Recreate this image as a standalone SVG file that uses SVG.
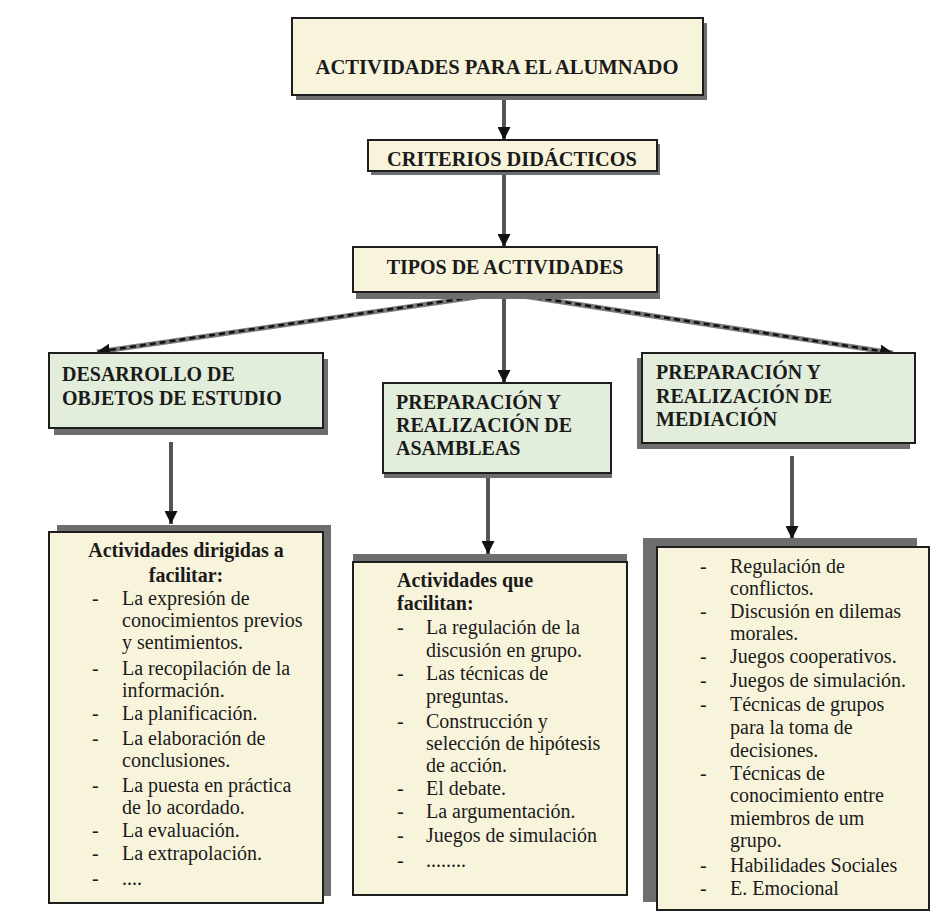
<svg xmlns="http://www.w3.org/2000/svg" width="948" height="915" viewBox="0 0 948 915">
<style>
.t{font-family:"Liberation Serif","Times New Roman",serif;font-size:20px;fill:#1a1a1a}
.b{font-weight:bold}
.c{text-anchor:middle}
.cream{fill:#f8f4dc;stroke:#1e1e1e;stroke-width:2}
.green{fill:#e2eedb;stroke:#1e1e1e;stroke-width:2}
.sh{fill:#6e6e6e}
.ln{stroke:#555555;stroke-width:4;fill:none}
.dk{stroke:#7a7a7a;stroke-width:5;fill:none}
.ds{stroke:#111111;stroke-width:2.5;stroke-dasharray:6 4;fill:none}
</style>
<defs>
<marker id="ah" markerUnits="userSpaceOnUse" markerWidth="13" markerHeight="13" refX="13" refY="6.5" orient="auto">
<path d="M0,0 L13,6.5 L0,13 z" fill="#111"/>
</marker>
</defs>
<rect width="948" height="915" fill="#ffffff"/>

<g id="connectors">
<line class="ln" x1="504" y1="97" x2="504" y2="140" marker-end="url(#ah)"/>
<line class="ln" x1="504" y1="172" x2="504" y2="247" marker-end="url(#ah)"/>
<line class="ln" x1="504" y1="293" x2="504" y2="383" marker-end="url(#ah)"/>
<line class="dk" x1="504" y1="293" x2="97" y2="352" marker-end="url(#ah)"/>
<line class="ds" x1="502" y1="293" x2="110" y2="350"/>
<line class="dk" x1="504" y1="293" x2="893" y2="353" marker-end="url(#ah)"/>
<line class="ds" x1="506" y1="293" x2="880" y2="351"/>
<line class="ln" x1="171" y1="442" x2="171" y2="524" marker-end="url(#ah)"/>
<line class="ln" x1="488" y1="478" x2="488" y2="554" marker-end="url(#ah)"/>
<line class="ln" x1="792" y1="456" x2="792" y2="539" marker-end="url(#ah)"/>
</g>

<g id="n_alumnado">
<rect class="sh" x="296" y="23" width="411" height="77"/>
<rect class="cream" x="292" y="18" width="411" height="77"/>
<text class="t b c" x="497" y="74" style="font-size:20.6px">ACTIVIDADES PARA EL ALUMNADO</text>
</g>

<g id="n_criterios">
<rect class="sh" x="371" y="144" width="289" height="31"/>
<rect class="cream" x="368" y="140" width="289" height="31"/>
<text class="t b c" x="512" y="166" style="font-size:20.4px">CRITERIOS DIDÁCTICOS</text>
</g>

<g id="n_tipos">
<rect class="sh" x="356" y="254" width="304" height="45"/>
<rect class="cream" x="353" y="247" width="304" height="45"/>
<text class="t b c" x="505" y="274">TIPOS DE ACTIVIDADES</text>
</g>

<g id="n_desarrollo">
<rect class="sh" x="54" y="359" width="274" height="76"/>
<rect class="green" x="49" y="353" width="274" height="75"/>
<text class="t b" x="62" y="381">DESARROLLO DE</text>
<text class="t b" x="62" y="405">OBJETOS DE ESTUDIO</text>
</g>

<g id="n_asambleas">
<rect class="sh" x="384" y="388" width="228" height="90"/>
<rect class="green" x="383" y="383" width="228" height="90"/>
<text class="t b" x="396" y="409">PREPARACIÓN Y</text>
<text class="t b" x="396" y="432">REALIZACIÓN DE</text>
<text class="t b" x="396" y="455">ASAMBLEAS</text>
</g>

<g id="n_mediacion">
<rect class="sh" x="637" y="358" width="273" height="91"/>
<rect class="green" x="642" y="353" width="273" height="90"/>
<text class="t b" x="656" y="379">PREPARACIÓN Y</text>
<text class="t b" x="656" y="403">REALIZACIÓN DE</text>
<text class="t b" x="656" y="426">MEDIACIÓN</text>
</g>

<g id="n_list1">
<rect class="sh" x="57" y="525" width="274" height="371"/>
<rect class="cream" x="49" y="532" width="274" height="371"/>
<text class="t b c" x="186" y="557">Actividades dirigidas a</text>
<text class="t b c" x="186" y="582">facilitar:</text>
<g class="t">
<text x="92" y="605">-</text><text x="122" y="605">La expresión de</text>
<text x="122" y="627">conocimientos previos</text>
<text x="122" y="649">y sentimientos.</text>
<text x="92" y="675">-</text><text x="122" y="675">La recopilación de la</text>
<text x="122" y="697">información.</text>
<text x="92" y="720">-</text><text x="122" y="720">La planificación.</text>
<text x="92" y="745">-</text><text x="122" y="745">La elaboración de</text>
<text x="122" y="767">conclusiones.</text>
<text x="92" y="792">-</text><text x="122" y="792">La puesta en práctica</text>
<text x="122" y="814">de lo acordado.</text>
<text x="92" y="837">-</text><text x="122" y="837">La evaluación.</text>
<text x="92" y="860">-</text><text x="122" y="860">La extrapolación.</text>
<text x="92" y="885">-</text><text x="122" y="885">....</text>
</g>
</g>

<g id="n_list2">
<rect class="sh" x="353" y="554" width="274" height="334"/>
<rect class="cream" x="353" y="562" width="274" height="333"/>
<text class="t b" x="397" y="587">Actividades que</text>
<text class="t b" x="397" y="610">facilitan:</text>
<g class="t">
<text x="397" y="634">-</text><text x="426" y="634">La regulación de la</text>
<text x="426" y="657">discusión en grupo.</text>
<text x="397" y="680">-</text><text x="426" y="680">Las técnicas de</text>
<text x="426" y="703">preguntas.</text>
<text x="397" y="728">-</text><text x="426" y="728">Construcción y</text>
<text x="426" y="750">selección de hipótesis</text>
<text x="426" y="772">de acción.</text>
<text x="397" y="795">-</text><text x="426" y="795">El debate.</text>
<text x="397" y="818">-</text><text x="426" y="818">La argumentación.</text>
<text x="397" y="842">-</text><text x="426" y="842">Juegos de simulación</text>
<text x="397" y="867">-</text><text x="426" y="867">........</text>
</g>
</g>

<g id="n_list3">
<rect class="sh" x="643" y="538" width="274" height="364"/>
<rect class="cream" x="657" y="547" width="272" height="363"/>
<g class="t">
<text x="700" y="573">-</text><text x="730" y="573">Regulación de</text>
<text x="730" y="595">conflictos.</text>
<text x="700" y="618">-</text><text x="730" y="618">Discusión en dilemas</text>
<text x="730" y="640">morales.</text>
<text x="700" y="663">-</text><text x="730" y="663">Juegos cooperativos.</text>
<text x="700" y="687">-</text><text x="730" y="687">Juegos de simulación.</text>
<text x="700" y="711">-</text><text x="730" y="711">Técnicas de grupos</text>
<text x="730" y="734">para la toma de</text>
<text x="730" y="757">decisiones.</text>
<text x="700" y="780">-</text><text x="730" y="780">Técnicas de</text>
<text x="730" y="802">conocimiento entre</text>
<text x="730" y="825">miembros de um</text>
<text x="730" y="847">grupo.</text>
<text x="700" y="872">-</text><text x="730" y="872">Habilidades Sociales</text>
<text x="700" y="895">-</text><text x="730" y="895">E. Emocional</text>
</g>
</g>
</svg>
